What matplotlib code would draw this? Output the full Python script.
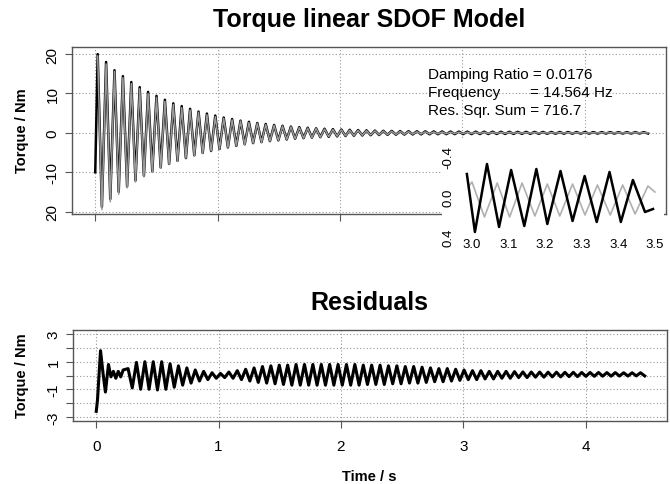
import numpy as np
import matplotlib.pyplot as plt

plt.rcParams['font.family'] = ['Liberation Sans', 'DejaVu Sans']

# fit results printed on the chart
damping_ratio = 0.0176
freq_hz = 14.564
res_sqr_sum = 716.7

# measured torque (Nm): start value, then peak / trough per cycle
meas_start_t = [0.0]
meas_start_v = [-10.0]
meas_first_peak_t = 0.02
meas_peaks = [20.0, 18.0, 15.9, 14.4, 12.9, 11.6, 10.4, 9.4, 8.4, 7.5,
              6.8, 6.1, 5.4, 4.9, 4.4, 3.9, 3.5, 3.1, 2.8, 2.5,
              2.25, 2.0, 1.8, 1.6, 1.45, 1.3, 1.15, 1.05, 0.95, 0.85,
              0.78, 0.7, 0.64, 0.58, 0.53, 0.49, 0.45, 0.42, 0.4, 0.38,
              0.36, 0.35, 0.33, 0.32, 0.31, 0.3, 0.29, 0.28, 0.27, 0.26,
              0.25, 0.25, 0.24, 0.23, 0.22, 0.22, 0.21, 0.2, 0.2, 0.19,
              0.18, 0.18, 0.17, 0.17, 0.16, 0.16]
meas_troughs = [-18.8, -16.8, -15.0, -13.6, -12.1, -10.9, -9.8, -8.8, -7.9, -7.1,
                -6.4, -5.7, -5.1, -4.6, -4.1, -3.7, -3.3, -2.9, -2.6, -2.35,
                -2.1, -1.9, -1.7, -1.5, -1.35, -1.2, -1.1, -1.0, -0.9, -0.8,
                -0.72, -0.66, -0.6, -0.55, -0.5, -0.46, -0.43, -0.4, -0.38, -0.36,
                -0.34, -0.33, -0.32, -0.31, -0.3, -0.29, -0.28, -0.27, -0.26, -0.25,
                -0.24, -0.24, -0.23, -0.22, -0.21, -0.21, -0.2, -0.19, -0.19, -0.18,
                -0.17, -0.17, -0.16, -0.16, -0.15, -0.15]

# SDOF model amplitude per cycle (Nm)
model_amp = [19.5, 17.5, 15.6, 14.0, 12.5, 11.2, 10.0, 9.0, 8.0, 7.2,
             6.4, 5.8, 5.2, 4.6, 4.1, 3.7, 3.3, 3.0, 2.6, 2.4,
             2.1, 1.9, 1.7, 1.5, 1.35, 1.2, 1.1, 0.95, 0.85, 0.77,
             0.69, 0.62, 0.55, 0.5, 0.45, 0.4, 0.36, 0.32, 0.29, 0.26,
             0.23, 0.21, 0.19, 0.17, 0.15, 0.14, 0.13, 0.12, 0.11, 0.1,
             0.09, 0.08, 0.07, 0.065, 0.06, 0.055, 0.05, 0.045, 0.04, 0.035,
             0.03, 0.03, 0.025, 0.025, 0.02, 0.02]

# residuals (Nm): transient at start, then peak / trough per cycle
res_start_t = [0.0, 0.01, 0.035, 0.055, 0.075, 0.1, 0.12, 0.14, 0.16, 0.18, 0.2, 0.22]
res_start_v = [-2.6, -1.8, 1.8, 0.2, -1.2, 0.8, -0.1, 0.3, -0.2, 0.3, -0.1, 0.4]
res_first_peak_t = 0.26
res_peaks = [0.5, 0.95, 1.0, 1.0, 1.0, 0.85, 0.7, 0.55, 0.4, 0.3,
             0.2, 0.15, 0.25, 0.35, 0.45, 0.55, 0.65, 0.7, 0.75, 0.75,
             0.8, 0.8, 0.8, 0.8, 0.8, 0.8, 0.8, 0.8, 0.75, 0.75,
             0.75, 0.7, 0.7, 0.65, 0.65, 0.6, 0.55, 0.5, 0.5, 0.45,
             0.4, 0.35, 0.35, 0.3, 0.3, 0.3, 0.28, 0.26, 0.25, 0.25,
             0.24, 0.24, 0.23, 0.23, 0.22, 0.22, 0.22, 0.21, 0.21, 0.2,
             0.2, 0.2]
res_troughs = [-0.9, -1.0, -1.0, -1.05, -1.0, -0.85, -0.7, -0.55, -0.4, -0.3,
               -0.2, -0.15, -0.2, -0.3, -0.4, -0.5, -0.55, -0.6, -0.65, -0.7,
               -0.7, -0.7, -0.7, -0.7, -0.7, -0.7, -0.7, -0.7, -0.65, -0.65,
               -0.65, -0.6, -0.6, -0.55, -0.55, -0.5, -0.45, -0.45, -0.4, -0.35,
               -0.3, -0.3, -0.25, -0.25, -0.2, -0.2, -0.15, -0.15, -0.12, -0.12,
               -0.1, -0.1, -0.08, -0.08, -0.06, -0.06, -0.05, -0.05, -0.04, -0.04,
               -0.03, -0.03]

# zoomed window 3.0 - 3.5 s
inset_meas_t = [2.986, 3.008, 3.041, 3.074, 3.107, 3.143, 3.176, 3.206, 3.242,
                3.275, 3.308, 3.341, 3.376, 3.407, 3.440, 3.473, 3.495]
inset_meas_v = [-0.23, 0.35, -0.33, 0.30, -0.27, 0.29, -0.28, 0.27, -0.26,
                0.24, -0.21, 0.25, -0.25, 0.25, -0.17, 0.15, 0.12]
inset_model_t = [2.99, 3.0, 3.034, 3.069, 3.103, 3.137, 3.172, 3.206, 3.240,
                 3.275, 3.309, 3.343, 3.378, 3.412, 3.446, 3.481, 3.5]
inset_model_v = [-0.1, -0.15, 0.2, -0.14, 0.2, -0.14, 0.19, -0.13, 0.19,
                 -0.13, 0.18, -0.12, 0.18, -0.12, 0.17, -0.11, -0.05]

top_yticks = [-20, -10, 0, 10, 20]
top_yticklabels = ['20', '-10', '0', '10', '20']
res_yticks = [-3, -2, -1, 0, 1, 2, 3]
res_yticklabels = ['-3', '', '-1', '', '1', '', '3']
xticks = [0, 1, 2, 3, 4]

period = 1.0 / freq_hz


def zigzag(t0, highs, lows):
    n = len(highs)
    t_hi = t0 + np.arange(n) * period
    t = np.empty(2 * n)
    v = np.empty(2 * n)
    t[0::2] = t_hi
    t[1::2] = t_hi + period / 2
    v[0::2] = highs
    v[1::2] = lows
    return t, v


mt, mv = zigzag(meas_first_peak_t, meas_peaks, meas_troughs)
mt = np.concatenate([meas_start_t, mt])
mv = np.concatenate([meas_start_v, mv])
model_amp = np.array(model_amp)
gt, gv = zigzag(meas_first_peak_t, model_amp, -model_amp)
rt, rv = zigzag(res_first_peak_t, res_peaks, res_troughs)
rt = np.concatenate([res_start_t, rt])
rv = np.concatenate([res_start_v, rv])

W, H = 670, 485
fig = plt.figure(figsize=(6.7, 4.85), dpi=100)


def px_axes(x0, y0, x1, y1, **kw):
    return fig.add_axes([x0 / W, 1 - y1 / H, (x1 - x0) / W, (y1 - y0) / H], **kw)


grid_kw = dict(color='#999999', linestyle=(0, (1, 2)), linewidth=0.8)
spine_col = '#555555'


def style(ax):
    for s in ax.spines.values():
        s.set_color(spine_col)
        s.set_linewidth(1.0)
    ax.tick_params(direction='out', length=5, width=0.8, color=spine_col,
                   labelsize=11, pad=4)
    ax.set_xlim(-0.19, 4.665)
    ax.set_xticks(xticks)
    ax.grid(True, **grid_kw)
    ax.set_axisbelow(True)


# top panel
ax1 = px_axes(72, 48, 666, 215)
style(ax1)
ax1.plot(mt, mv, color='black', lw=1.8)
ax1.plot(gt, gv, color='#9a9a9a', lw=1.1)
ax1.set_ylim(-20.6, 21.8)
ax1.set_yticks(top_yticks)
ax1.set_yticklabels(top_yticklabels, rotation=90, va='center')
ax1.set_xticklabels([])

fig.text(428 / W, 1 - 75 / H, f'Damping Ratio = {damping_ratio}', fontsize=11, va='center')
fig.text(428 / W, 1 - 93 / H, f'Frequency       = {freq_hz:.3f} Hz', fontsize=11, va='center')
fig.text(428 / W, 1 - 111 / H, f'Res. Sqr. Sum = {res_sqr_sum}', fontsize=11, va='center')

# inset
ax_in = px_axes(442, 140, 664, 258, zorder=5)
ax_in.set_facecolor('white')
for s in ax_in.spines.values():
    s.set_visible(False)
ax_in.plot(inset_model_t, inset_model_v, color='#b0b0b0', lw=1.2)
ax_in.plot(inset_meas_t, inset_meas_v, color='black', lw=1.8)
ax_in.set_xlim(2.918, 3.525)
ax_in.set_ylim(0.6, -0.58)
ax_in.set_xticks([3.0, 3.1, 3.2, 3.3, 3.4, 3.5])
ax_in.set_yticks([-0.4, 0.0, 0.4])
ax_in.set_yticklabels(['-0.4', '0.0', '0.4'], rotation=90, va='center')
ax_in.tick_params(axis='x', length=0, pad=-14, labelsize=9.5)
ax_in.tick_params(axis='y', length=0, pad=-9, labelsize=9.5)

# residuals panel
ax2 = px_axes(73, 331, 667, 422)
style(ax2)
ax2.plot(rt, rv, color='black', lw=2.2)
ax2.set_ylim(-3.3, 3.3)
ax2.set_yticks(res_yticks)
ax2.set_yticklabels(res_yticklabels, rotation=90, va='center')
ax2.tick_params(axis='x', pad=8)

title_x = 369.5 / W
fig.text(title_x, 1 - 27 / H, 'Torque linear SDOF Model', fontsize=18,
         fontweight='bold', ha='center', va='baseline')
fig.text(title_x, 1 - 310 / H, 'Residuals', fontsize=18,
         fontweight='bold', ha='center', va='baseline')
fig.text(22 / W, 1 - 131 / H, 'Torque / Nm', fontsize=10.5, fontweight='bold',
         rotation=90, ha='center', va='center')
fig.text(22 / W, 1 - 376 / H, 'Torque / Nm', fontsize=10.5, fontweight='bold',
         rotation=90, ha='center', va='center')
fig.text(title_x, 1 - 477 / H, 'Time / s', fontsize=10.5, fontweight='bold',
         ha='center', va='center')

fig.savefig('out.png', dpi=100)
